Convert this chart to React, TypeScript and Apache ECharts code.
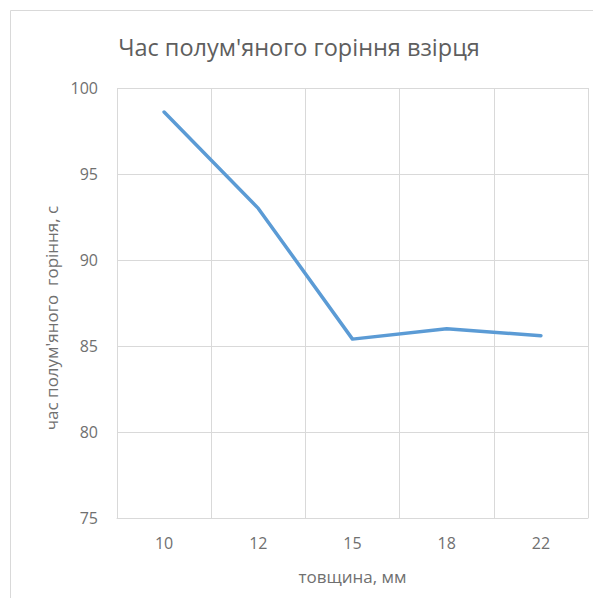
import React, { useEffect, useRef } from "react";
import * as echarts from "echarts";

const categories = ["10", "12", "15", "18", "22"];
const values = [98.6, 93.0, 85.4, 86.0, 85.6];
const titleText = "Час полум'яного горіння взірця";
const xName = "товщина, мм";
const yName = "час полум'яного  горіння, с";

export default function App() {
  const ref = useRef<HTMLDivElement>(null);
  useEffect(() => {
    if (!ref.current) return;
    const chart = echarts.init(ref.current, null, { renderer: "svg" });
    const font = "Open Sans, Noto Sans, sans-serif";
    const labelColor = "#707070";
    chart.setOption({
      animation: false,
      backgroundColor: "#ffffff",
      textStyle: { fontFamily: font },
      title: {
        text: titleText,
        left: 294,
        top: 30,
        textAlign: "center",
        textStyle: { fontSize: 23.5, fontWeight: "normal", color: "#5e5e5e", fontFamily: font },
      },
      graphic: [
        {
          type: "rect",
          shape: { x: 10.5, y: 10.5, width: 600, height: 594 },
          style: { fill: "none", stroke: "#d9d9d9", lineWidth: 1 },
          silent: true,
        },
      ],
      grid: { left: 117, right: 13, top: 88, bottom: 88, containLabel: false },
      xAxis: {
        type: "category",
        data: categories,
        boundaryGap: true,
        name: xName,
        nameLocation: "middle",
        nameGap: 50,
        nameTextStyle: { fontSize: 17, color: labelColor, fontFamily: font },
        axisLine: { show: true, lineStyle: { color: "#d9d9d9" } },
        axisTick: { show: false },
        axisLabel: { fontSize: 16, color: labelColor, margin: 17 },
        splitLine: { show: true, interval: 0, lineStyle: { color: "#d9d9d9", width: 1 } },
      },
      yAxis: {
        type: "value",
        min: 75,
        max: 100,
        interval: 5,
        name: yName,
        nameLocation: "middle",
        nameGap: 52,
        nameTextStyle: { fontSize: 17, color: labelColor, fontFamily: font, padding: [0, 30, 0, 0] },
        axisLine: { show: false },
        axisTick: { show: false },
        axisLabel: { fontSize: 16, color: labelColor, margin: 19 },
        splitLine: { show: true, lineStyle: { color: "#d9d9d9", width: 1 } },
      },
      series: [
        {
          type: "line",
          data: values,
          symbol: "none",
          lineStyle: { color: "#5b9bd5", width: 3.5, cap: "round", join: "round" },
        },
      ],
    });
    return () => chart.dispose();
  }, []);
  return (
    <div
      ref={ref}
      style={{ width: 601, height: 606, margin: -8, position: "relative" }}
    />
  );
}
